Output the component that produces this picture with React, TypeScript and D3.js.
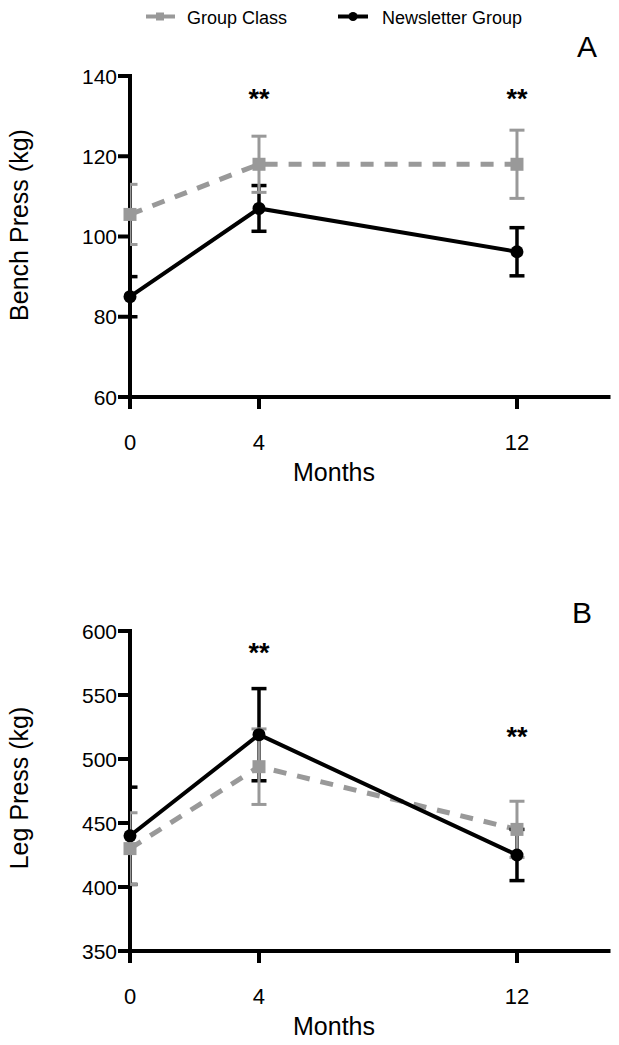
import React from "react";
import * as d3 from "d3";

const months = [0, 4, 12];
const monthTicks = [0, 4, 12];

const benchGroupClass = [105.5, 118, 118];
const benchGroupClassErr = [7.5, 7, 8.5];
const benchNewsletter = [85, 107, 96.2];
const benchNewsletterErr = [5, 5.7, 6];
const benchTicks = [60, 80, 100, 120, 140];
const benchSig = [
  { month: 4, value: 132 },
  { month: 12, value: 132 },
];

const legGroupClass = [430, 494, 445];
const legGroupClassErr = [28, 29.5, 22];
const legNewsletter = [440, 519, 425];
const legNewsletterErr = [38, 36, 20];
const legTicks = [350, 400, 450, 500, 550, 600];
const legSig = [
  { month: 4, value: 576 },
  { month: 12, value: 510 },
];

const seriesNames = ["Group Class", "Newsletter Group"];
const GREY = "#999999";
const BLACK = "#000000";
const FONT = "'Liberation Sans', Arial, Helvetica, sans-serif";

const xScale = d3.scaleLinear().domain([0, 14.9]).range([130, 610.5]);

type PanelProps = {
  id: string;
  letter: string;
  letterX: number;
  letterY: number;
  title: string;
  titleCenter: number;
  domain: [number, number];
  top: number;
  bottom: number;
  ticks: number[];
  gc: number[];
  gcErr: number[];
  nl: number[];
  nlErr: number[];
  sig: { month: number; value: number }[];
};

function Panel(p: PanelProps) {
  const y = d3.scaleLinear().domain(p.domain).range([p.bottom, p.top]);
  const x0 = xScale(0);
  const xEnd = xScale.range()[1];
  const line = d3
    .line<number>()
    .x((_, i) => xScale(months[i]))
    .y((d) => y(d));
  const capW = 7.5;

  const errBars = (vals: number[], errs: number[], color: string, sw: number) =>
    vals.map((v, i) => {
      const cx = xScale(months[i]);
      const hi = y(v + errs[i]);
      const lo = y(v - errs[i]);
      return (
        <g key={i} stroke={color} strokeWidth={sw} clipPath={`url(#clip-${p.id})`}>
          <line x1={cx} x2={cx} y1={hi} y2={lo} />
          <line x1={cx - capW} x2={cx + capW} y1={hi} y2={hi} />
          <line x1={cx - capW} x2={cx + capW} y1={lo} y2={lo} />
        </g>
      );
    });

  return (
    <g>
      <defs>
        <clipPath id={`clip-${p.id}`}>
          <rect x={x0} y={0} width={619 - x0} height={1045} />
        </clipPath>
      </defs>
      {/* axes */}
      <g stroke={BLACK} strokeWidth={4} strokeLinecap="butt">
        <line x1={x0} x2={x0} y1={p.top - 2} y2={p.bottom + 2} />
        <line x1={x0 - 2} x2={xEnd} y1={p.bottom} y2={p.bottom} />
        {p.ticks.map((t) => (
          <line key={t} x1={x0 - 12} x2={x0} y1={y(t)} y2={y(t)} />
        ))}
        {monthTicks.map((t) => (
          <line key={t} x1={xScale(t)} x2={xScale(t)} y1={p.bottom} y2={p.bottom + 12} />
        ))}
      </g>
      {p.ticks.map((t) => (
        <text
          key={t}
          x={x0 - 13}
          y={y(t) + 7.5}
          textAnchor="end"
          fontSize={21}
          fontFamily={FONT}
        >
          {t}
        </text>
      ))}
      {monthTicks.map((t) => (
        <text
          key={t}
          x={xScale(t)}
          y={p.bottom + 53}
          textAnchor="middle"
          fontSize={22}
          fontFamily={FONT}
        >
          {t}
        </text>
      ))}
      <text
        x={334}
        y={p.bottom + 84}
        textAnchor="middle"
        fontSize={25}
        fontFamily={FONT}
      >
        Months
      </text>
      <text
        transform={`translate(28,${p.titleCenter}) rotate(-90)`}
        textAnchor="middle"
        fontSize={25}
        fontFamily={FONT}
      >
        {p.title}
      </text>
      <text x={p.letterX} y={p.letterY} fontSize={30} fontFamily={FONT}>
        {p.letter}
      </text>
      {p.sig.map((s, i) => (
        <text
          key={i}
          x={xScale(s.month)}
          y={y(s.value)}
          textAnchor="middle"
          fontSize={27}
          fontWeight="bold"
          fontFamily={FONT}
        >
          **
        </text>
      ))}
      {/* lines */}
      <path d={line(p.gc) || ""} fill="none" stroke={GREY} strokeWidth={5} strokeDasharray="13,11" />
      <path d={line(p.nl) || ""} fill="none" stroke={BLACK} strokeWidth={4} />
      {errBars(p.nl, p.nlErr, BLACK, 3.5)}
      {errBars(p.gc, p.gcErr, GREY, 3)}
      {p.nl.map((v, i) => (
        <circle key={i} cx={xScale(months[i])} cy={y(v)} r={6.5} fill={BLACK} />
      ))}
      {p.gc.map((v, i) => (
        <rect
          key={i}
          x={xScale(months[i]) - 6.5}
          y={y(v) - 6.5}
          width={13}
          height={13}
          fill={GREY}
        />
      ))}
    </g>
  );
}

export default function App() {
  return (
    <svg
      width={619}
      height={1045}
      style={{ position: "absolute", left: 0, top: 0, background: "#fff" }}
    >
      <rect width={619} height={1045} fill="#fff" />
      {/* legend */}
      <g>
        <line x1={146} x2={175} y1={16.5} y2={16.5} stroke={GREY} strokeWidth={4} />
        <rect x={156} y={12.5} width={8} height={8} fill={GREY} />
        <text x={187} y={23.5} fontSize={18} fontFamily={FONT}>
          {seriesNames[0]}
        </text>
        <line x1={338} x2={368} y1={16.5} y2={16.5} stroke={BLACK} strokeWidth={4} />
        <circle cx={353} cy={16.5} r={4.5} fill={BLACK} />
        <text x={382} y={23.5} fontSize={18} fontFamily={FONT}>
          {seriesNames[1]}
        </text>
      </g>
      <Panel
        id="a"
        letter="A"
        letterX={577}
        letterY={57}
        title="Bench Press (kg)"
        titleCenter={225}
        domain={[60, 140]}
        top={76}
        bottom={397}
        ticks={benchTicks}
        gc={benchGroupClass}
        gcErr={benchGroupClassErr}
        nl={benchNewsletter}
        nlErr={benchNewsletterErr}
        sig={benchSig}
      />
      <Panel
        id="b"
        letter="B"
        letterX={572}
        letterY={623}
        title="Leg Press (kg)"
        titleCenter={788}
        domain={[350, 600]}
        top={631}
        bottom={951}
        ticks={legTicks}
        gc={legGroupClass}
        gcErr={legGroupClassErr}
        nl={legNewsletter}
        nlErr={legNewsletterErr}
        sig={legSig}
      />
    </svg>
  );
}
